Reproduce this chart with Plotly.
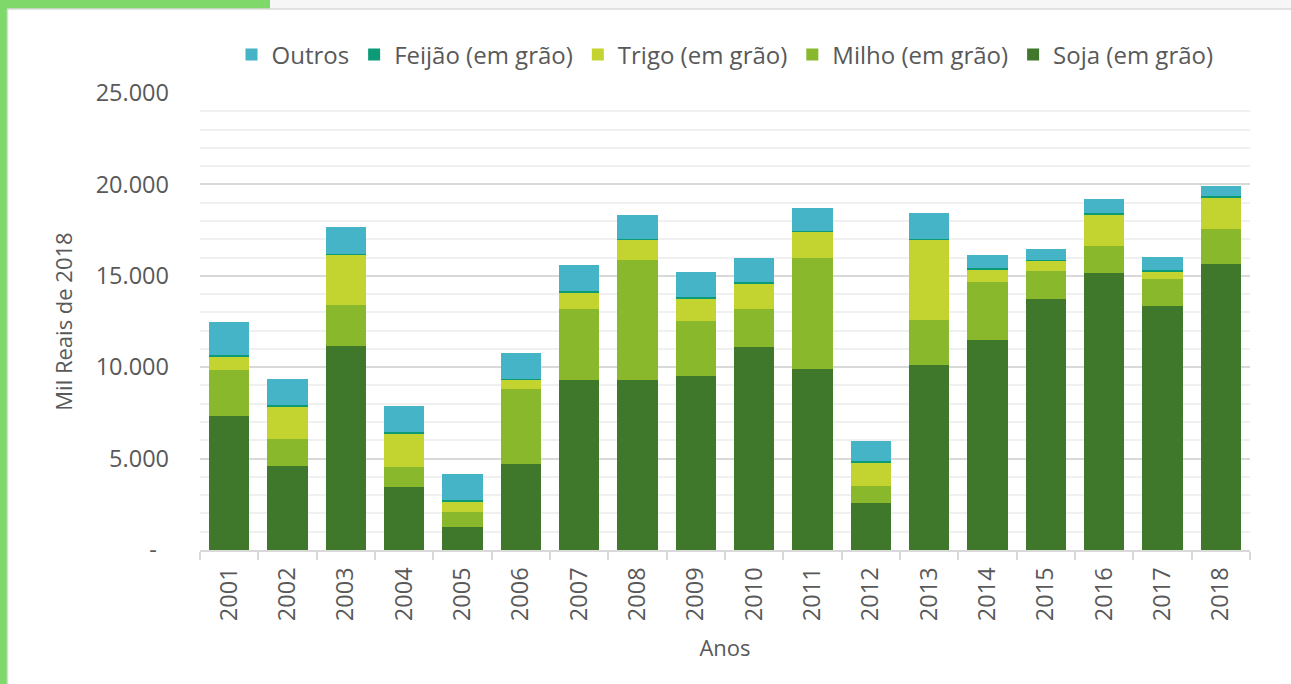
import plotly.graph_objects as go

anos = ["2001", "2002", "2003", "2004", "2005", "2006", "2007", "2008", "2009",
        "2010", "2011", "2012", "2013", "2014", "2015", "2016", "2017", "2018"]

soja = [7330, 4600, 11180, 3450, 1260, 4700, 9300, 9300, 9520,
        11100, 9900, 2570, 10120, 11490, 13730, 15150, 13350, 15650]
milho = [2530, 1470, 2220, 1090, 820, 4110, 3880, 6560, 3010,
         2080, 6070, 930, 2460, 3170, 1530, 1480, 1470, 1910]
trigo = [750, 1790, 2740, 1860, 600, 490, 930, 1100, 1220,
         1390, 1430, 1310, 4380, 710, 550, 1700, 440, 1750]
feijao = [60, 60, 80, 50, 60, 40, 60, 50, 70,
          70, 50, 60, 50, 40, 50, 90, 60, 60]
outros = [1800, 1430, 1470, 1430, 1420, 1440, 1420, 1320, 1400,
          1330, 1250, 1090, 1430, 730, 600, 760, 710, 540]

y_ticks = [0, 5000, 10000, 15000, 20000, 25000]
y_tick_labels = ["-\u00a0\u00a0", "5.000", "10.000", "15.000", "20.000", "25.000"]

series = [
    ("Soja (em grão)", soja, "#40782b"),
    ("Milho (em grão)", milho, "#8ab82c"),
    ("Trigo (em grão)", trigo, "#c3d430"),
    ("Feijão (em grão)", feijao, "#0d9a76"),
    ("Outros", outros, "#45b4c6"),
]

FONT = "Open Sans"
GRAY = "#595959"
FS = 23.5

fig = go.Figure()
for name, vals, col in series:
    fig.add_trace(go.Bar(
        x=anos, y=vals, name=name,
        marker=dict(color=col, line=dict(width=0)),
    ))

# decorative frame: white panel with green strip on the left/top-left
L, T, PW, PH = 200, 93, 1050, 457


def px_x(p):
    return (p - L) / PW


def px_y(p):
    return (T + PH - p) / PH


shapes = [
    dict(type="rect", xref="paper", yref="paper", layer="below",
         x0=px_x(0), x1=px_x(7), y0=px_y(684), y1=px_y(0),
         fillcolor="#7fd86a", line=dict(width=0)),
    dict(type="rect", xref="paper", yref="paper", layer="below",
         x0=px_x(0), x1=px_x(270), y0=px_y(9), y1=px_y(0),
         fillcolor="#7fd86a", line=dict(width=0)),
    dict(type="rect", xref="paper", yref="paper", layer="below",
         x0=px_x(270), x1=px_x(1291), y0=px_y(9), y1=px_y(0),
         fillcolor="#f6f6f6", line=dict(width=0)),
    dict(type="line", xref="paper", yref="paper", layer="below",
         x0=px_x(7), x1=px_x(1291), y0=px_y(9), y1=px_y(9),
         line=dict(color="#d9d9d9", width=1.5)),
    dict(type="line", xref="paper", yref="paper", layer="below",
         x0=px_x(7.5), x1=px_x(7.5), y0=px_y(684), y1=px_y(9),
         line=dict(color="#d9d9d9", width=1.5)),
]

fig.update_layout(
    width=1291, height=684,
    margin=dict(l=L, r=1291 - L - PW, t=T, b=684 - T - PH),
    paper_bgcolor="white", plot_bgcolor="white",
    barmode="stack", bargap=0.314,
    font=dict(family=FONT, size=FS, color=GRAY),
    showlegend=True,
    legend=dict(
        orientation="h", traceorder="reversed",
        x=0.5, xanchor="center", y=px_y(55), yanchor="middle",
        font=dict(family=FONT, size=24, color=GRAY),
        itemsizing="constant", itemwidth=30,
        bgcolor="rgba(0,0,0,0)",
    ),
    xaxis=dict(
        type="category",
        tickangle=-90,
        tickson="boundaries", ticks="outside", ticklen=8, tickwidth=2,
        tickcolor="#d9d9d9",
        ticklabelstandoff=6,
        showline=True, linecolor="#d9d9d9", linewidth=2,
        showgrid=False,
        tickfont=dict(family=FONT, size=FS, color=GRAY),
        title=dict(text="Anos", font=dict(family=FONT, size=22, color=GRAY),
                   standoff=20),
    ),
    yaxis=dict(
        range=[0, 25000],
        tickvals=y_ticks, ticktext=y_tick_labels,
        showgrid=True, gridcolor="#d9d9d9", gridwidth=2,
        minor=dict(dtick=1000, showgrid=True, gridcolor="#f0f0f0", gridwidth=2),
        zeroline=False,
        ticks="", ticklabelstandoff=30,
        tickfont=dict(family=FONT, size=FS, color=GRAY),
        title=dict(text="Mil Reais de 2018",
                   font=dict(family=FONT, size=22, color=GRAY), standoff=16),
    ),
    shapes=shapes,
)

fig.write_html(
    "out.html",
    config={"displayModeBar": False},
    post_script="document.body.style.margin='0';document.body.style.padding='0';",
)
